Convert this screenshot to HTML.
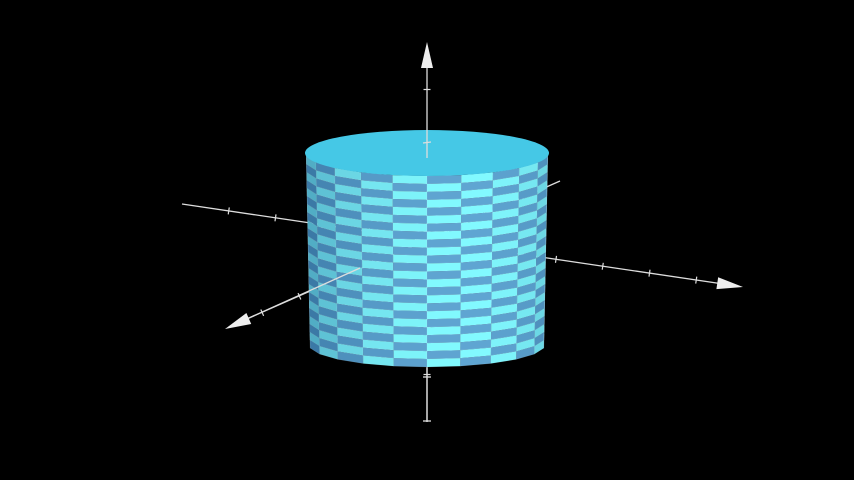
<!DOCTYPE html>
<html><head><meta charset="utf-8"><style>
html,body{margin:0;padding:0;background:#000;width:854px;height:480px;overflow:hidden}
svg{display:block}
</style></head><body>
<svg id="s" width="854" height="480" viewBox="0 0 854 480">
<rect width="854" height="480" fill="#000"/>
<g id="axesBack"></g>
<g id="cyl"></g>
<g id="axesFront"></g>
</svg>
<script>
const segments = [22];
const rows = [24];
const topCenter = [427,153];
const ns="http://www.w3.org/2000/svg";
function mk(tag,attrs,parent){const e=document.createElementNS(ns,tag);for(const k in attrs)e.setAttribute(k,attrs[k]);parent.appendChild(e);return e;}
const backG=document.getElementById('axesBack'),frontG=document.getElementById('axesFront'),cylG=document.getElementById('cyl');
function line(p,a,b,name){const l=mk('line',{x1:a[0],y1:a[1],x2:b[0],y2:b[1],stroke:'#ddd','stroke-width':1.3},p);

}
function arrow(p,tip,dir,name){const dx=dir[0],dy=dir[1];const L=Math.hypot(dx,dy),ux=dx/L,uy=dy/L,len=26,w=6;
const bx=tip[0]-ux*len,by=tip[1]-uy*len;
const a=mk('polygon',{points:`${tip[0]},${tip[1]} ${bx-uy*w},${by+ux*w} ${bx+uy*w},${by-ux*w}`,fill:'#eee'},p);

}
function ticks(p,a,b,n,name){for(let i=1;i<n;i++){const t=i/n;const x=a[0]+(b[0]-a[0])*t,y=a[1]+(b[1]-a[1])*t;
const dx=b[0]-a[0],dy=b[1]-a[1],L=Math.hypot(dx,dy);const nx=-dy/L*3.5,ny=dx/L*3.5;
const l=mk('line',{x1:x-nx,y1:y-ny,x2:x+nx,y2:y+ny,stroke:'#ddd','stroke-width':1.2},p);

}}
line(backG,[182,204],[730,285],'x-axis');ticks(backG,[182,204],[743,287],12,'x-axis-tick');arrow(backG,[743,287],[561,83],'x-axis-arrow');
line(backG,[560,181],[240,322],'y-axis');ticks(backG,[560,182],[225,329],9,'y-axis-tick');
line(backG,[427,422],[427,60],'z-axis');ticks(backG,[427,422],[427,42],8,'z-axis-tick');arrow(backG,[427,42],[0,-1],'z-axis-arrow');
const N=segments[0],R=rows[0];
function pt(th,t){const cy=topCenter[1]+t*192,rx=122-4*t,ry=23-1*t;return [topCenter[0]+rx*Math.sin(th),cy+ry*Math.cos(th)];}
for(let j=0;j<N;j++){const a0=-Math.PI+j*2*Math.PI/N,a1=a0+2*Math.PI/N;const mid=(a0+a1)/2;
if(Math.cos(mid)<-0.05)continue;
const f=0.45+0.55*Math.max(0,Math.cos(mid-0.3));
for(let i=0;i<R;i++){const t0=i/R,t1=(i+1)/R;const alt=((i+j)%2===0);
let r,g,b;
if(alt){r=40+90*f;g=110+140*f;b=150+105*f;}else{r=30+65*f;g=85+80*f;b=130+80*f;}
const p=[pt(a0,t0),pt(a1,t0),pt(a1,t1),pt(a0,t1)];
const poly=mk('polygon',{points:p.map(q=>q.join(',')).join(' '),fill:`rgb(${Math.round(Math.min(255,r))},${Math.round(Math.min(255,g))},${Math.round(Math.min(255,b))})`,stroke:'rgba(200,240,255,0.25)','stroke-width':0.4},cylG);

}}
const topFace=mk('ellipse',{cx:427,cy:153,rx:122,ry:23,fill:'#45c8e6'},cylG);


line(frontG,[360,268],[240,322],'y-axis-front');
arrow(frontG,[225,329],[-335,147],'y-axis-arrow');
line(frontG,[427,130],[427,158],'z-axis-top-front');line(frontG,[423,143],[431,142],'z-axis-tick-front');
line(frontG,[427,368],[427,422],'z-axis-bottom-front');
line(frontG,[423,377],[431,377],'z-axis-tick-front');line(frontG,[423,421],[431,421],'z-axis-tick-front');
</script>
</body></html>
